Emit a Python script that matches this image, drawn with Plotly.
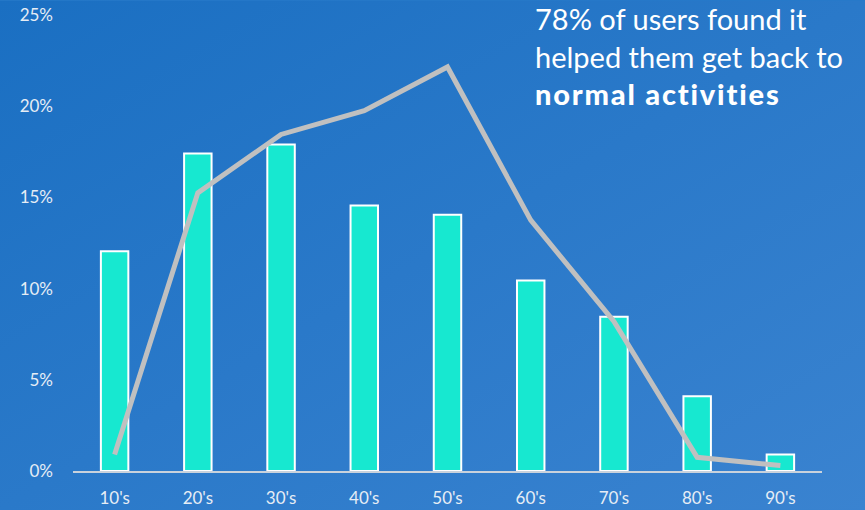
import plotly.graph_objects as go
import base64

categories = ["10's", "20's", "30's", "40's", "50's", "60's", "70's", "80's", "90's"]
bar_values = [12.05, 17.4, 17.9, 14.55, 14.05, 10.45, 8.45, 4.1, 0.9]
line_values = [0.9, 15.25, 18.45, 19.75, 22.15, 13.75, 8.2, 0.75, 0.3]
tick_vals = [0, 5, 10, 15, 20, 25]
tick_text = ["0%", "5%", "10%", "15%", "20%", "25%"]

fig = go.Figure()
fig.add_trace(go.Bar(
    x=categories, y=bar_values, width=0.33,
    marker=dict(color="#17e8d0", line=dict(color="white", width=2)),
    hoverinfo="skip",
))
fig.add_trace(go.Scatter(
    x=categories, y=line_values, mode="lines",
    line=dict(color="#c0c0c0", width=5),
    hoverinfo="skip",
))

svg = ('<svg xmlns="http://www.w3.org/2000/svg" width="865" height="510">'
       '<defs><linearGradient id="g" x1="0" y1="0" x2="1" y2="1">'
       '<stop offset="0" stop-color="#1a6fc2"/><stop offset="1" stop-color="#3a83d0"/>'
       '</linearGradient></defs><rect width="865" height="510" fill="url(#g)"/></svg>')
uri = "data:image/svg+xml;base64," + base64.b64encode(svg.encode()).decode()

fig.update_layout(
    width=865, height=510,
    margin=dict(l=73, r=43, t=14.5, b=39),
    paper_bgcolor="#2679c9", plot_bgcolor="rgba(0,0,0,0)",
    showlegend=False,
    font=dict(family="Lato, Open Sans, sans-serif", color="#e6edf5", size=17),
    images=[dict(source=uri, xref="paper", yref="paper", x=-73/749, y=1 + 14.5/456.5,
                 sizex=865/749, sizey=510/456.5, sizing="stretch", layer="below",
                 xanchor="left", yanchor="top")],
    xaxis=dict(showgrid=False, showline=True, linecolor="#c9d2dc", linewidth=2,
               automargin=False,
               ticks="", ticklabelstandoff=11, tickfont=dict(size=17, color="#e6edf5")),
    yaxis=dict(range=[0, 25], tickvals=tick_vals, ticktext=tick_text, showgrid=False,
               automargin=False,
               zeroline=False, showline=False, ticks="", ticklabelstandoff=19,
               tickfont=dict(size=17, color="#e6edf5")),
    annotations=[dict(
        xref="paper", yref="paper", x=(533 - 73) / 749, y=(471 + 2) / 456.5,
        xanchor="left", yanchor="top", align="left", showarrow=False,
        text=("78% of users found it<br>helped them get back to<br>"
              "<span style='font-weight:900;letter-spacing:1.8px'>normal activities</span>"),
        font=dict(size=29, color="white", family="Lato, Open Sans, sans-serif"),
    )],
)
fig.write_html("out.html", config={"displayModeBar": False},
               post_script="document.body.style.margin='0';")
